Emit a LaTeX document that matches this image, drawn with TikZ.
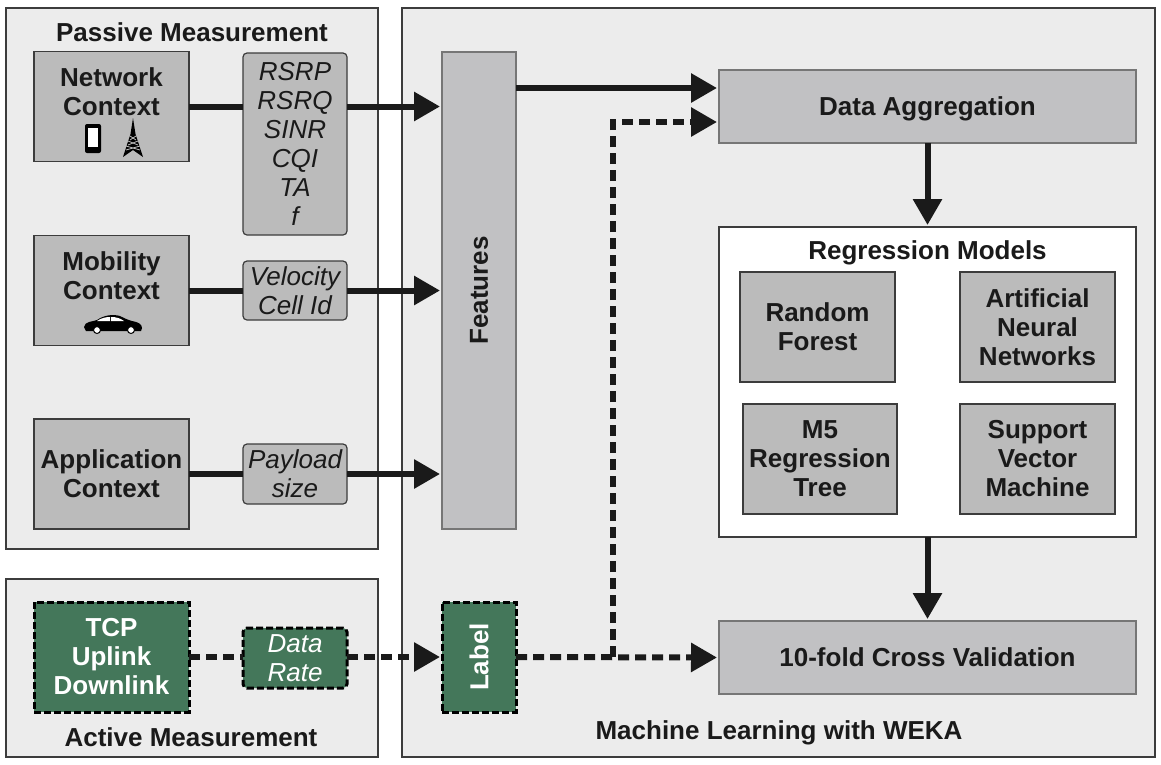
\documentclass[tikz,border=0pt]{standalone}
\usepackage{fontspec}
\usepackage{graphicx}
\setmainfont{Liberation Sans}
\usetikzlibrary{arrows.meta}
\definecolor{panelgray}{HTML}{ECECEC}
\definecolor{boxgray}{HTML}{BBBBBB}
\definecolor{lightbox}{HTML}{C1C1C3}
\definecolor{labelgreen}{HTML}{44775A}
\definecolor{inkblack}{HTML}{1A1A1A}
\tikzset{
	panel/.style={draw=inkblack!85, fill=panelgray, line width=1.2pt, anchor=north west, inner sep=0pt, outer sep=0pt},
	ctxbox/.style={draw=inkblack!85, fill=boxgray, line width=1.2pt, align=center, inner sep=0pt, outer sep=0pt,
		text=inkblack, font=\bfseries\fontsize{26}{29}\selectfont},
	listbox/.style={ctxbox, rounded corners=4pt, font=\itshape\fontsize{26}{29}\selectfont},
	stagebox/.style={ctxbox, draw=inkblack!60, fill=lightbox},
	activebox/.style={ctxbox, draw=black, fill=labelgreen, text=white, line width=3pt, dash pattern=on 7pt off 3pt},
	activelist/.style={activebox, rounded corners=4pt, font=\itshape\fontsize{26}{29}\selectfont},
	heading/.style={text=inkblack, inner sep=0pt, font=\bfseries\fontsize{26}{29}\selectfont},
	flow/.style={draw=inkblack, line width=6pt, -{Triangle[length=26pt,width=28pt]}, shorten >=2pt},
	link/.style={draw=inkblack, line width=6pt},
	dashflow/.style={flow, dash pattern=on 11pt off 6pt},
	dashlink/.style={link, dash pattern=on 11pt off 6pt}
}
\begin{document}
\begin{tikzpicture}[x=1pt, y=-1pt]
	\useasboundingbox (0,0) rectangle (1161,764);
	
	% pannelli
	\node[panel, minimum width=372pt, minimum height=541pt] (passive) at (6,8) {};
	\node[panel, minimum width=372pt, minimum height=178pt] (active) at (6,579) {};
	\node[panel, minimum width=753pt, minimum height=749pt] (weka) at (402,8) {};
	\node[heading] (passivetitle) at (192,32.5) {Passive Measurement};
	\node[heading] (activetitle) at (191,737) {Active Measurement};
	\node[heading] (wekatitle) at (779,733) {Machine Learning with WEKA};
	
	% contesti
	\node[ctxbox, minimum width=155pt, minimum height=110pt] (network) at (111.5,106.5) {Network\\Context\\~};
	\node[ctxbox, minimum width=155pt, minimum height=110pt] (mobility) at (111.5,290.5) {Mobility\\Context\\~};
	\node[ctxbox, minimum width=155pt, minimum height=110pt] (application) at (111.5,474) {Application\\Context};
	\node[activebox, minimum width=155pt, minimum height=110pt] (tcp) at (111.5,657) {TCP\\Uplink\\Downlink};
	
	% metriche
	\node[listbox, minimum width=104pt, minimum height=182pt] (radio) at (295,144) {RSRP\\RSRQ\\SINR\\CQI\\TA\\f};
	\node[listbox, minimum width=104pt, minimum height=59pt] (velocity) at (295,290.5) {Velocity\\Cell Id};
	\node[listbox, minimum width=104pt, minimum height=60pt] (payload) at (295,474) {Payload\\size};
	\node[activelist, minimum width=104pt, minimum height=60pt] (datarate) at (295,658) {Data\\Rate};
	
	% features e label
	\node[stagebox, minimum width=74pt, minimum height=477pt] (features) at (479,290.5) {\rotatebox{90}{Features}};
	\node[activebox, minimum width=74pt, minimum height=110pt] (label) at (479,657) {\rotatebox{90}{Label}};
	
	% parte destra
	\node[stagebox, text depth=0pt, minimum width=417pt, minimum height=73pt] (aggregation) at (927.5,106.5) {Data Aggregation};
	\node[ctxbox, fill=white, minimum width=417pt, minimum height=310pt] (models) at (927.5,382) {};
	\node[heading] (modelstitle) at (927.5,252.5) {Regression Models};
	\node[ctxbox, minimum width=155pt, minimum height=110pt] (forest) at (817.5,327) {Random\\Forest};
	\node[ctxbox, minimum width=155pt, minimum height=110pt] (neural) at (1037.5,327) {Artificial\\Neural\\Networks};
	\node[ctxbox, minimum width=154pt, minimum height=110pt] (tree) at (820,459) {M5\\Regression\\Tree};
	\node[ctxbox, minimum width=155pt, minimum height=110pt] (svm) at (1037.5,459) {Support\\Vector\\Machine};
	\node[stagebox, minimum width=417pt, minimum height=73pt] (validation) at (927.5,657.5) {10-fold Cross Validation};
	
	% frecce
	\draw[link] (network.east) -- (network.east -| radio.west);
	\draw[flow] (network.east -| radio.east) -- (network.east -| features.west);
	\draw[link] (mobility.east) -- (mobility.east -| velocity.west);
	\draw[flow] (mobility.east -| velocity.east) -- (mobility.east -| features.west);
	\draw[link] (application.east) -- (payload.west);
	\draw[flow] (payload.east) -- (application.east -| features.west);
	\draw[flow] ([yshift=18.5pt]aggregation.west -| features.east) -- ([yshift=18.5pt]aggregation.west);
	\draw[flow] (aggregation.south) -- (models.north);
	\draw[flow] (models.south) -- (validation.north);
	
	% frecce tratteggiate
	\coordinate (branch) at (613,657);
	\coordinate (corner) at (613,122);
	\draw[dashlink] (tcp.east) -- (tcp.east -| datarate.west);
	\draw[dashflow] (tcp.east -| datarate.east) -- (label.west);
	\draw[dashflow] (label.east) -- (validation.west);
	\draw[dashflow] (branch) -- (corner) -- ([yshift=-15.5pt]aggregation.west);
	
	% telefono
	\fill[black, rounded corners=2pt] (85,124) rectangle (101,153);
	\fill[white] (88,128) rectangle (98,147);
	% antenna
	\fill[black] (133,118) -- (135.5,134) -- (143,157) -- (133,150) -- (123,157) -- (130.5,134) -- cycle;
	\foreach \ty/\tw in {136/3, 141/5, 146/7} {
		\draw[boxgray, line width=0.8pt] (133-\tw,\ty) -- (133+\tw,\ty+4);
		\draw[boxgray, line width=0.8pt] (133+\tw,\ty) -- (133-\tw,\ty+4);
	}
	% auto
	\fill[black] (84,327) .. controls (85,321) and (92,322) .. (97,320) .. controls (104,315) and (113,314) .. (120,316) .. controls (124,318) and (128,320) .. (132,321) .. controls (138,322) and (142,324) .. (142,328) -- (141,331) -- (86,331) -- cycle;
	\fill[white] (97,321) .. controls (101,318) and (106,317) .. (110,317) -- (110,321) -- cycle;
	\fill[white] (111,317) .. controls (116,317) and (120,318) .. (124,321) -- (111,321) -- cycle;
	\filldraw[fill=white, draw=black, line width=1pt] (97,330) circle[radius=3.5];
	\filldraw[fill=white, draw=black, line width=1pt] (131,330) circle[radius=3.5];
\end{tikzpicture}
\end{document}
